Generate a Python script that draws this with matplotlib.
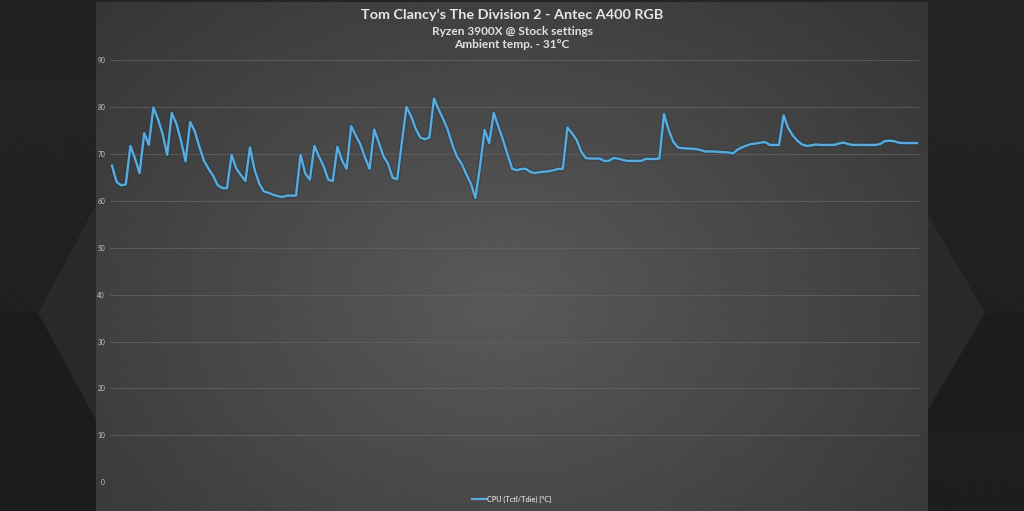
import numpy as np
import matplotlib
matplotlib.use('Agg')
import matplotlib.pyplot as plt
from matplotlib.patches import Polygon
from matplotlib.lines import Line2D

# ---------------- data ----------------
title = "Tom Clancy's The Division 2 - Antec A400 RGB"
subtitle1 = "Ryzen 3900X @ Stock settings"
subtitle2 = "Ambient temp. - 31°C"
series_name = "CPU (Tctl/Tdie) [°C]"
y_ticks = [0, 10, 20, 30, 40, 50, 60, 70, 80, 90]

cpu_temp = [
    67.5, 64.0, 63.3, 63.5, 71.7, 69.0, 65.9, 74.4, 71.9, 79.9,
    77.4, 74.2, 69.8, 78.7, 76.4, 72.8, 68.4, 76.8, 74.8, 71.5,
    68.5, 66.8, 65.3, 63.3, 62.7, 62.7, 69.8, 66.9, 65.5, 64.2,
    71.4, 66.6, 63.7, 62.0, 61.7, 61.3, 61.0, 60.8, 61.1, 61.1,
    61.1, 69.8, 65.8, 64.5, 71.7, 69.4, 67.4, 64.5, 64.2, 71.5,
    68.6, 66.8, 75.9, 73.9, 72.0, 69.2, 66.8, 75.2, 72.4, 69.5,
    67.9, 64.9, 64.6, 72.3, 80.0, 78.1, 75.4, 73.5, 73.1, 73.5,
    81.8, 79.5, 77.4, 75.1, 71.9, 69.4, 67.9, 65.7, 63.7, 60.6,
    67.3, 75.1, 72.3, 78.7, 75.8, 73.0, 69.8, 66.8, 66.5, 66.8,
    66.8, 66.1, 65.9, 66.1, 66.2, 66.3, 66.5, 66.8, 66.8, 75.6,
    74.4, 73.0, 70.5, 69.1, 69.0, 69.0, 69.0, 68.5, 68.5, 69.1,
    69.0, 68.7, 68.5, 68.5, 68.5, 68.5, 68.9, 68.9, 68.9, 69.0,
    78.5, 75.1, 72.6, 71.4, 71.2, 71.15, 71.1, 71.0, 70.8, 70.5,
    70.5, 70.5, 70.4, 70.35, 70.3, 70.1, 70.9, 71.4, 71.8, 72.1,
    72.2, 72.4, 72.5, 71.9, 71.9, 71.9, 78.2, 75.5, 73.9, 72.8,
    72.0, 71.7, 71.8, 72.0, 71.9, 71.9, 71.9, 71.9, 72.2, 72.4,
    72.1, 71.9, 71.9, 71.9, 71.9, 71.9, 71.9, 72.1, 72.7, 72.8,
    72.7, 72.4, 72.3, 72.3, 72.3, 72.3,
]

# ---------------- figure ----------------
W, H = 1024, 511
fig = plt.figure(figsize=(W / 100, H / 100), dpi=100)
fig.patch.set_facecolor('#212121')

# decorative background
bg = fig.add_axes([0, 0, 1, 1], zorder=0)
bg.set_xlim(0, W)
bg.set_ylim(H, 0)
bg.axis('off')

rng = np.random.default_rng(1)
yy, xx = np.mgrid[0:H, 0:W]
outer = 0.145 - 0.03 * (yy / H) + rng.normal(0, 0.003, yy.shape)
bg.imshow(outer, cmap='gray', vmin=0, vmax=1, extent=[0, W, H, 0], aspect='auto',
          interpolation='bilinear', zorder=0)

shade = [
    ([(0, 0), (96, 0), (96, 80), (0, 80)], '#222222', 0.8),
    ([(96, 205), (38, 313), (96, 420)], '#2c2c2c', 0.8),
    ([(0, 313), (38, 313), (96, 420), (96, 511), (0, 511)], '#1c1c1c', 0.8),
    ([(928, 215), (985, 313), (928, 410)], '#2c2c2c', 0.8),
    ([(985, 313), (1024, 313), (1024, 430), (928, 430), (928, 410)], '#1c1c1c', 0.8),
]
for pts, col, a in shade:
    bg.add_patch(Polygon(pts, closed=True, facecolor=col, edgecolor='none', alpha=a, zorder=1))

px0, px1 = 96, 928
py0, py1 = 2, 511
gy, gx = np.mgrid[py0:py1, px0:px1]
r = np.sqrt(((gx - 500) / 520.0) ** 2 + ((gy - 300) / 400.0) ** 2)
panel = 0.35 - 0.13 * r + rng.normal(0, 0.004, gx.shape)
bg.imshow(panel, cmap='gray', vmin=0, vmax=1, extent=[px0, px1, py1, py0],
          aspect='auto', interpolation='bilinear', zorder=2)

# chart axes
left = 109.7 / W
right = 919.3 / W
bottom = (H - 482.3) / H
top = (H - 60.0) / H
ax = fig.add_axes([left, bottom, right - left, top - bottom], zorder=1)
ax.patch.set_alpha(0)
for s in ax.spines.values():
    s.set_visible(False)

x = np.arange(len(cpu_temp))
ax.plot(x, cpu_temp, color='#1b3a50', lw=3.4, alpha=0.45, solid_joinstyle='round', zorder=3)
ax.plot(x, cpu_temp, color='#58abdc', lw=1.7, solid_joinstyle='round', zorder=4)

ax.set_xlim(-0.5, len(cpu_temp) - 0.5)
ax.set_ylim(0, 90)
ax.set_yticks(y_ticks)
ax.set_yticklabels([str(v) for v in y_ticks], fontsize=4.8, color='#c4c4c4', family='Lato')
ax.tick_params(axis='y', length=0, pad=3.4)
ax.set_xticks([])
ax.grid(axis='y', color='#606060', lw=0.6)
ax.set_axisbelow(True)

# titles
fig.text(0.5, 1 - 15 / H, title, ha='center', va='center', fontsize=10.4, fontweight='bold',
         color='#e6e6e6', family='Lato')
fig.text(0.5, 1 - 31 / H, subtitle1, ha='center', va='center', fontsize=8.6, fontweight='bold',
         color='#e0e0e0', family='Lato')
fig.text(0.5, 1 - 44.5 / H, subtitle2, ha='center', va='center', fontsize=8.6, fontweight='bold',
         color='#e0e0e0', family='Lato')

handle = Line2D([], [], color='#58abdc', lw=1.6)
leg = fig.legend([handle], [series_name], loc='center', bbox_to_anchor=(512 / W, 1 - 499 / H),
                 frameon=False, handlelength=2.0, handletextpad=0.1,
                 prop={'family': 'Lato', 'size': 5.2, 'weight': 'bold'})
for t in leg.get_texts():
    t.set_color('#d5d5d5')

fig.savefig('out.png', dpi=100, facecolor=fig.get_facecolor())
